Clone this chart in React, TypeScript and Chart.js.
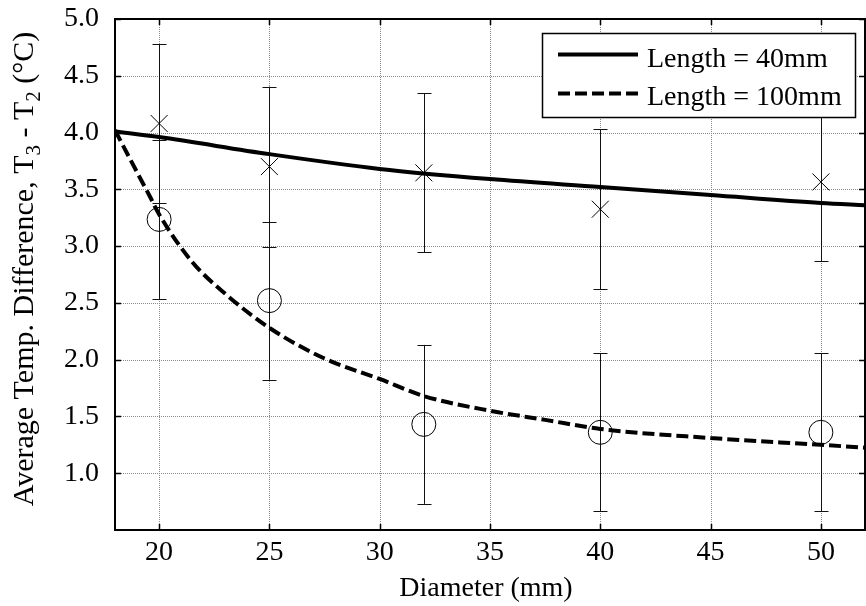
import React, { useEffect, useRef } from 'react';
import { Chart, registerables } from 'chart.js';

Chart.register(...registerables);

// ---- data ----
const diameters = [20, 25, 32, 40, 50];
const measured40 = [4.08, 3.7, 3.645, 3.325, 3.565];
const error40 = [0.7, 0.705, 0.7, 0.705, 0.7];
const measured100 = [3.235, 2.52, 1.43, 1.36, 1.36];
const error100 = [0.7, 0.695, 0.7, 0.695, 0.695];

const fitX40 = [18, 20, 25, 30, 35, 40, 45, 50, 52];
const fit40 = [4.01, 3.96, 3.81, 3.68, 3.59, 3.52, 3.45, 3.38, 3.36];
const fitX100 = [18, 19, 19.6, 20, 21.5, 23, 25, 27.5, 30, 32, 35, 37.5, 40, 45, 50, 52];
const fit100 = [4.02, 3.65, 3.43, 3.28, 2.86, 2.58, 2.28, 2.01, 1.83, 1.68, 1.55, 1.47, 1.39, 1.31, 1.25, 1.225];

const xTicks = [20, 25, 30, 35, 40, 45, 50];
const yTicks = [1.0, 1.5, 2.0, 2.5, 3.0, 3.5, 4.0, 4.5, 5.0];
const legendLabels = ['Length = 40mm', 'Length = 100mm'];
const xTitle = 'Diameter (mm)';
const yTitleParts = ['Average Temp. Difference, T', '3', ' - T', '2', ' (\u00B0C)'];

const FONT = "'Liberation Serif', 'Times New Roman', serif";

const chartPlugin = {
  id: 'customFrame',
  beforeDatasetsDraw(chart: any) {
    const { ctx, chartArea: a, scales } = chart;
    const x = scales.x, y = scales.y;
    ctx.save();
    // dotted grid
    ctx.strokeStyle = '#8a8a8a';
    ctx.lineWidth = 1;
    ctx.setLineDash([1, 1]);
    xTicks.forEach((v) => {
      const px = Math.round(x.getPixelForValue(v)) + 0.5;
      ctx.beginPath();
      ctx.moveTo(px, a.top);
      ctx.lineTo(px, a.bottom);
      ctx.stroke();
    });
    yTicks.forEach((v) => {
      const py = Math.round(y.getPixelForValue(v)) + 0.5;
      ctx.beginPath();
      ctx.moveTo(a.left, py);
      ctx.lineTo(a.right, py);
      ctx.stroke();
    });
    ctx.setLineDash([]);
    // error bars
    ctx.strokeStyle = '#111';
    ctx.lineWidth = 1;
    const drawBars = (vals: number[], errs: number[]) => {
      vals.forEach((v, i) => {
        const px = Math.round(x.getPixelForValue(diameters[i])) + 0.5;
        const top = y.getPixelForValue(v + errs[i]);
        const bot = y.getPixelForValue(v - errs[i]);
        ctx.beginPath();
        ctx.moveTo(px, top);
        ctx.lineTo(px, bot);
        ctx.moveTo(px - 7, Math.round(top) + 0.5);
        ctx.lineTo(px + 7, Math.round(top) + 0.5);
        ctx.moveTo(px - 7, Math.round(bot) + 0.5);
        ctx.lineTo(px + 7, Math.round(bot) + 0.5);
        ctx.stroke();
      });
    };
    drawBars(measured40, error40);
    drawBars(measured100, error100);
    ctx.restore();
  },
  afterDatasetsDraw(chart: any) {
    const { ctx, chartArea: a, scales } = chart;
    const x = scales.x, y = scales.y;
    ctx.save();
    ctx.strokeStyle = '#000';
    // inward ticks
    ctx.lineWidth = 1.5;
    xTicks.forEach((v) => {
      const px = Math.round(x.getPixelForValue(v)) + 0.5;
      ctx.beginPath();
      ctx.moveTo(px, a.bottom);
      ctx.lineTo(px, a.bottom - 6);
      ctx.moveTo(px, a.top);
      ctx.lineTo(px, a.top + 6);
      ctx.stroke();
    });
    yTicks.forEach((v) => {
      const py = Math.round(y.getPixelForValue(v)) + 0.5;
      ctx.beginPath();
      ctx.moveTo(a.left, py);
      ctx.lineTo(a.left + 6, py);
      ctx.moveTo(a.right, py);
      ctx.lineTo(a.right - 6, py);
      ctx.stroke();
    });
    // frame
    ctx.lineWidth = 2;
    ctx.strokeRect(a.left, a.top, a.right - a.left, a.bottom - a.top);
    ctx.restore();
  },
  afterDraw(chart: any) {
    const { ctx } = chart;
    ctx.save();
    // legend
    const lx = 542, ly = 33, lw = 313, lh = 84;
    ctx.fillStyle = '#fff';
    ctx.fillRect(lx, ly, lw, lh);
    ctx.strokeStyle = '#000';
    ctx.lineWidth = 1.5;
    ctx.strokeRect(lx + 0.5, ly + 0.5, lw, lh);
    ctx.lineWidth = 4;
    ctx.beginPath();
    ctx.moveTo(558, 54.5);
    ctx.lineTo(638, 54.5);
    ctx.stroke();
    ctx.setLineDash([12, 5]);
    ctx.beginPath();
    ctx.moveTo(558, 93.5);
    ctx.lineTo(638, 93.5);
    ctx.stroke();
    ctx.setLineDash([]);
    ctx.fillStyle = '#000';
    ctx.font = `28px ${FONT}`;
    ctx.textAlign = 'left';
    ctx.textBaseline = 'alphabetic';
    ctx.fillText(legendLabels[0], 647, 67);
    ctx.fillText(legendLabels[1], 647, 105);

    // x title
    ctx.font = `28px ${FONT}`;
    ctx.textAlign = 'center';
    ctx.fillText(xTitle, 486, 596);

    // y title with subscripts
    const mainFont = `30px ${FONT}`;
    const subFont = `21px ${FONT}`;
    const fonts = [mainFont, subFont, mainFont, subFont, mainFont];
    let total = 0;
    const widths = yTitleParts.map((p, i) => {
      ctx.font = fonts[i];
      const w = ctx.measureText(p).width;
      total += w;
      return w;
    });
    ctx.translate(0, 269);
    ctx.rotate(-Math.PI / 2);
    ctx.textAlign = 'left';
    let cx = -total / 2;
    yTitleParts.forEach((p, i) => {
      ctx.font = fonts[i];
      ctx.fillText(p, cx, i % 2 === 1 ? 40 : 33);
      cx += widths[i];
    });
    ctx.restore();
  },
};

const zeroPad = (s: any) => {
  s.paddingTop = 0;
  s.paddingBottom = 0;
  s.paddingLeft = 0;
  s.paddingRight = 0;
};

export default function App() {
  const canvasRef = useRef<HTMLCanvasElement | null>(null);

  useEffect(() => {
    document.body.style.margin = '0';
    const canvas = canvasRef.current;
    if (!canvas) return;
    const toPts = (xs: number[], ys: number[]) => xs.map((v, i) => ({ x: v, y: ys[i] }));
    const chart = new Chart(canvas, {
      type: 'scatter',
      data: {
        datasets: [
          {
            label: legendLabels[0],
            data: toPts(fitX40, fit40),
            showLine: true,
            borderColor: '#000',
            borderWidth: 4,
            pointRadius: 0,
            cubicInterpolationMode: 'monotone',
            fill: false,
          } as any,
          {
            label: legendLabels[1],
            data: toPts(fitX100, fit100),
            showLine: true,
            borderColor: '#000',
            borderWidth: 4,
            borderDash: [12, 5],
            pointRadius: 0,
            cubicInterpolationMode: 'monotone',
            fill: false,
          } as any,
          {
            label: 'measured 40',
            data: toPts(diameters, measured40),
            showLine: false,
            pointStyle: 'crossRot',
            pointRadius: 12,
            pointBorderWidth: 1,
            pointBorderColor: '#000',
            pointBackgroundColor: 'rgba(0,0,0,0)',
          } as any,
          {
            label: 'measured 100',
            data: toPts(diameters, measured100),
            showLine: false,
            pointStyle: 'circle',
            pointRadius: 12,
            pointBorderWidth: 1,
            pointBorderColor: '#000',
            pointBackgroundColor: 'rgba(0,0,0,0)',
          } as any,
        ],
      },
      options: {
        animation: false,
        responsive: false,
        devicePixelRatio: 1,
        layout: { autoPadding: false, padding: { top: 19, right: 1, left: 0, bottom: 0 } },
        plugins: { legend: { display: false }, tooltip: { enabled: false } },
        scales: {
          x: {
            type: 'linear',
            min: 18,
            max: 52,
            afterBuildTicks: (s: any) => {
              s.ticks = xTicks.map((v) => ({ value: v }));
            },
            afterFit: (s: any) => {
              s.height = 76;
              zeroPad(s);
            },
            grid: { display: false, drawTicks: false },
            border: { display: false },
            ticks: {
              color: '#000',
              font: { family: FONT, size: 28 },
              padding: 6,
              maxRotation: 0,
              autoSkip: false,
              callback: (v: any) => String(v),
            },
          },
          y: {
            type: 'linear',
            min: 0.5,
            max: 5,
            afterBuildTicks: (s: any) => {
              s.ticks = yTicks.map((v) => ({ value: v }));
            },
            afterFit: (s: any) => {
              s.width = 115;
              zeroPad(s);
            },
            grid: { display: false, drawTicks: false },
            border: { display: false },
            ticks: {
              color: '#000',
              font: { family: FONT, size: 28 },
              padding: 16,
              autoSkip: false,
              callback: (v: any) => Number(v).toFixed(1),
            },
          },
        },
      },
      plugins: [chartPlugin],
    } as any);
    return () => chart.destroy();
  }, []);

  return (
    <div style={{ width: 866, height: 606 }}>
      <canvas ref={canvasRef} width={866} height={606} style={{ display: 'block' }} />
    </div>
  );
}
